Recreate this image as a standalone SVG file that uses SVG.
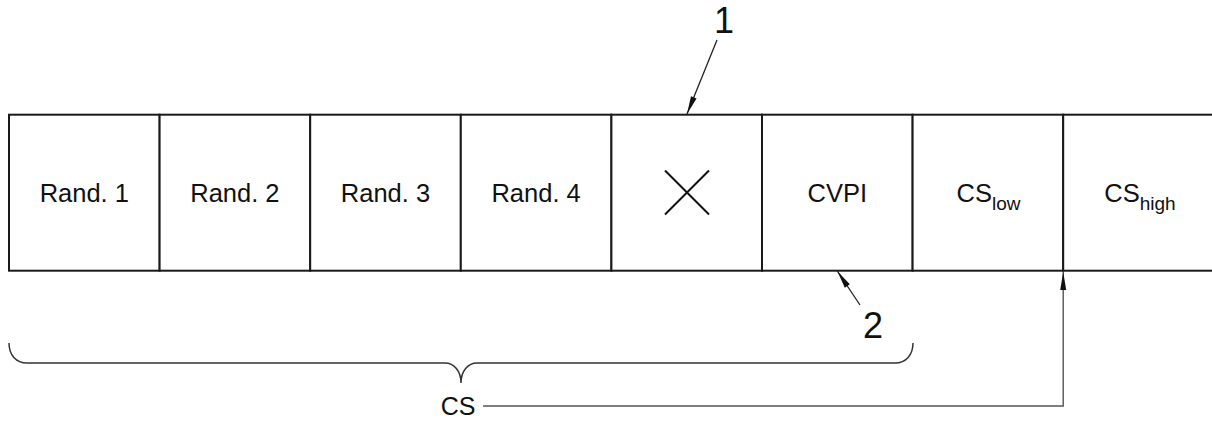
<svg xmlns="http://www.w3.org/2000/svg" width="1212" height="421" viewBox="0 0 1212 421">
<style>
.cell{fill:#fff;stroke:#1a1a1a;stroke-width:2}
.lbl{font-family:"Liberation Sans",Arial,sans-serif;font-size:25.5px;fill:#111;text-anchor:middle}
.sub{font-size:19px}
.num{font-family:"Liberation Sans",Arial,sans-serif;font-size:36px;fill:#111;text-anchor:middle}
.cs{font-family:"Liberation Sans",Arial,sans-serif;font-size:25px;fill:#111;text-anchor:middle}
.leader{fill:none;stroke:#222;stroke-width:1.3}
.conn{fill:none;stroke:#555;stroke-width:1.4}
.brace{fill:none;stroke:#333;stroke-width:1.5}
</style>
<defs>
<marker id="ah" markerUnits="userSpaceOnUse" markerWidth="22" markerHeight="10" viewBox="-1 -5 22 10" refX="0" refY="0" orient="auto">
<path d="M0,0 L18,-3 L18,3 Z" fill="#111"/>
</marker>
</defs>
<g id="cell-rand1"><rect class="cell" x="9" y="114.7" width="150.6" height="156"/><text class="lbl" x="84.3" y="202">Rand. 1</text></g>
<g id="cell-rand2"><rect class="cell" x="159.6" y="114.7" width="150.6" height="156"/><text class="lbl" x="234.9" y="202">Rand. 2</text></g>
<g id="cell-rand3"><rect class="cell" x="310.2" y="114.7" width="150.6" height="156"/><text class="lbl" x="385.5" y="202">Rand. 3</text></g>
<g id="cell-rand4"><rect class="cell" x="460.8" y="114.7" width="150.6" height="156"/><text class="lbl" x="536.1" y="202">Rand. 4</text></g>
<g id="cell-x"><rect class="cell" x="611.4" y="114.7" width="150.6" height="156"/><path d="M665,170.5 L709,214.5 M709,170.5 L665,214.5" stroke="#111" stroke-width="2" fill="none"/></g>
<g id="cell-cvpi"><rect class="cell" x="762" y="114.7" width="150.6" height="156"/><text class="lbl" x="837.3" y="202">CVPI</text></g>
<g id="cell-cslow"><rect class="cell" x="912.6" y="114.7" width="150.6" height="156"/><text class="lbl" x="988.5" y="202">CS<tspan class="sub" dy="7.5">low</tspan></text></g>
<g id="cell-cshigh"><rect class="cell" x="1063.2" y="114.7" width="150.6" height="156"/><text class="lbl" x="1140" y="202">CS<tspan class="sub" dy="7.5">high</tspan></text></g>
<g id="label-1"><text class="num" x="724" y="33">1</text></g>
<g id="label-2"><text class="num" x="873" y="338">2</text></g>
<g id="label-cs"><text class="cs" x="458" y="415">CS</text></g>
<g id="brace"><path class="brace" d="M9,343 C9,355 16,363 27,363 L445,363 C454,363 461,371 461,383 C461,371 468,363 477,363 L895,363 C906,363 913,355 913,343"/></g>
<g id="connectors">
<path class="leader" d="M687,114 L717,40" marker-start="url(#ah)"/>
<path class="leader" d="M837.3,271 L860,305" marker-start="url(#ah)"/>
<path class="conn" d="M1063.2,272 L1063.2,406 L483,406" marker-start="url(#ah)"/>
</g>
</svg>
